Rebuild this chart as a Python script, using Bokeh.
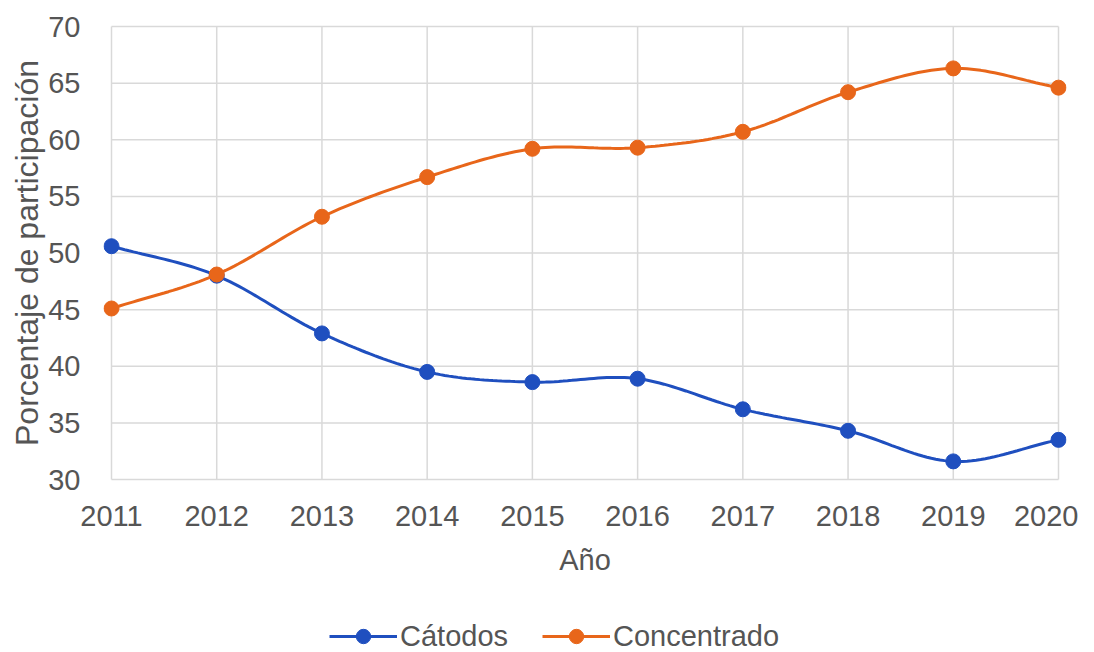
import numpy as np
from bokeh.plotting import figure
from bokeh.layouts import column
from bokeh.models import Range1d, FixedTicker, Legend, LegendItem
from bokeh.embed import file_html
from bokeh.resources import INLINE

years = [2011, 2012, 2013, 2014, 2015, 2016, 2017, 2018, 2019, 2020]
catodos = [50.6, 48.0, 42.9, 39.5, 38.6, 38.9, 36.2, 34.3, 31.6, 33.5]
concentrado = [45.1, 48.1, 53.2, 56.7, 59.2, 59.3, 60.7, 64.2, 66.3, 64.6]
y_ticks = [30, 35, 40, 45, 50, 55, 60, 65, 70]

series_names = ["Cátodos", "Concentrado"]
colors = ["#1f4fbf", "#e8661a"]
grid_color = "#d9d9d9"
text_color = "#555555"
FONT = "Liberation Sans"


def smooth(xs, ys, n=24):
    xs = np.asarray(xs, float)
    ys = np.asarray(ys, float)
    m = np.zeros_like(ys)
    m[1:-1] = (ys[2:] - ys[:-2]) / (xs[2:] - xs[:-2])
    m[0] = (ys[1] - ys[0]) / (xs[1] - xs[0])
    m[-1] = (ys[-1] - ys[-2]) / (xs[-1] - xs[-2])
    ox, oy = [], []
    for i in range(len(xs) - 1):
        h = xs[i + 1] - xs[i]
        t = np.linspace(0, 1, n, endpoint=(i == len(xs) - 2))
        h00 = 2 * t**3 - 3 * t**2 + 1
        h10 = t**3 - 2 * t**2 + t
        h01 = -2 * t**3 + 3 * t**2
        h11 = t**3 - t**2
        ox.extend(xs[i] + t * h)
        oy.extend(h00 * ys[i] + h10 * h * m[i] + h01 * ys[i + 1] + h11 * h * m[i + 1])
    return ox, oy


W, H1, H2 = 1078, 581, 71
left, right, top, bottom = 103, 12, 24, 100
frame_w = W - left - right
frame_h = H1 - top - bottom
px_per_year = (frame_w - 16) / (years[-1] - years[0])
px_per_unit = (frame_h - 4) / (y_ticks[-1] - y_ticks[0])

p = figure(width=W, height=H1, output_backend="svg", toolbar_location=None,
           x_range=Range1d(years[0] - 8 / px_per_year, years[-1] + 8 / px_per_year),
           y_range=Range1d(y_ticks[0] - 2 / px_per_unit, y_ticks[-1] + 2 / px_per_unit),
           min_border_left=left, min_border_right=right,
           min_border_top=top, min_border_bottom=bottom)

p.outline_line_color = None
p.xgrid.visible = False
p.ygrid.visible = False

# grid lines restricted to the data extent
p.segment(x0=[years[0]] * len(y_ticks), x1=[years[-1]] * len(y_ticks),
          y0=y_ticks, y1=y_ticks, line_color=grid_color, line_width=1.5)
p.segment(x0=years, x1=years, y0=[y_ticks[0]] * len(years), y1=[y_ticks[-1]] * len(years),
          line_color=grid_color, line_width=1.5)

for vals, c in zip([catodos, concentrado], colors):
    sx, sy = smooth(years, vals)
    p.line(sx, sy, line_color=c, line_width=3)
    p.scatter(years, vals, size=15, fill_color=c, line_color=c)

for ax in (p.xaxis, p.yaxis):
    ax.axis_line_color = None
    ax.major_tick_line_color = None
    ax.minor_tick_line_color = None
    ax.major_label_text_font = FONT
    ax.major_label_text_font_size = "29px"
    ax.major_label_text_color = text_color
    ax.axis_label_text_font = FONT
    ax.axis_label_text_font_style = "normal"
    ax.axis_label_text_color = text_color

p.xaxis.ticker = FixedTicker(ticks=years)
p.yaxis.ticker = FixedTicker(ticks=y_ticks)
p.xaxis.axis_label = "Año"
p.yaxis.axis_label = "Porcentaje de participación"
p.xaxis.axis_label_text_font_size = "29px"
p.yaxis.axis_label_text_font_size = "32px"
p.xaxis.major_label_standoff = 18
p.xaxis.axis_label_standoff = 15
p.yaxis.major_label_standoff = 17
p.yaxis.axis_label_standoff = 0

# legend strip below the chart (its renderers lie outside the visible range)
q = figure(width=W, height=H2, output_backend="svg", toolbar_location=None,
           x_range=Range1d(0, 1), y_range=Range1d(0, 1),
           x_axis_location=None, y_axis_location=None,
           min_border_left=0, min_border_right=0, min_border_top=0, min_border_bottom=0)
q.grid.visible = False
q.outline_line_color = None
items = []
for name, vals, c in zip(series_names, [catodos, concentrado], colors):
    lr = q.line(years, vals, line_color=c, line_width=3)
    sr = q.scatter(years, vals, size=15, fill_color=c, line_color=c)
    items.append(LegendItem(label=name, renderers=[lr, sr]))
legend = Legend(items=items, orientation="horizontal", location=(226, -2),
                padding=0, margin=0, spacing=34, glyph_width=68, glyph_height=36,
                label_height=36, label_standoff=3,
                label_text_font=FONT, label_text_font_size="29px",
                label_text_color=text_color, border_line_color=None,
                background_fill_alpha=0)
q.add_layout(legend)

layout = column(p, q, spacing=0)
open("out.html", "w").write(file_html(layout, INLINE))
